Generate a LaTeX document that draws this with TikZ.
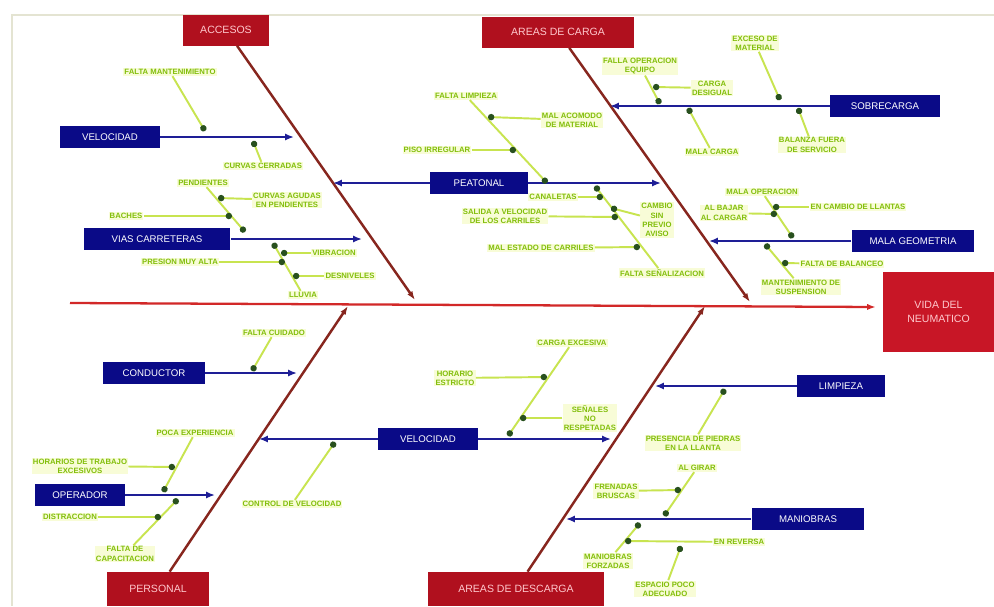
\documentclass[tikz,border=0pt]{standalone}
\usepackage{fontspec}
\setmainfont{Liberation Sans}
\usetikzlibrary{arrows.meta}
\definecolor{catred}{RGB}{176,16,30}
\definecolor{headred}{RGB}{200,22,38}
\definecolor{cattext}{RGB}{255,200,205}
\definecolor{navy}{RGB}{10,10,135}
\definecolor{bluel}{RGB}{30,30,150}
\definecolor{bonec}{RGB}{135,38,30}
\definecolor{spinec}{RGB}{210,40,40}
\definecolor{gline}{RGB}{200,228,80}
\definecolor{gtext}{RGB}{130,190,10}
\definecolor{gfill}{RGB}{248,252,215}
\definecolor{gdot}{RGB}{40,80,30}
\definecolor{framec}{RGB}{228,228,210}

\begin{document}
\begin{tikzpicture}[x=0.02cm,y=-0.02cm,
  cat/.style={fill=catred,text=cattext,font=\fontsize{6}{7}\selectfont,minimum height=0.62cm,inner sep=2pt},
  head/.style={fill=headred,text=cattext,font=\fontsize{6}{7.5}\selectfont,align=center,minimum width=2.22cm,minimum height=1.6cm},
  sub/.style={fill=navy,text=white,font=\fontsize{5.5}{6.5}\selectfont,minimum height=0.45cm,inner sep=2pt},
  cause/.style={text=gtext,fill=gfill,font=\bfseries\fontsize{4.4}{5.3}\selectfont,align=center,inner sep=0.6pt},
  spine/.style={draw=spinec,line width=1.3pt,-{Latex[length=5pt,width=3.5pt]}},
  bone/.style={draw=bonec,line width=1.4pt,-{Latex[length=5pt,width=3.5pt]}},
  branch/.style={draw=bluel,line width=1.6pt,-{Latex[length=5pt,width=4pt]}},
  twig/.style={draw=gline,line width=1.1pt,-{Circle[length=3.6pt,color=gdot]}}]
  \useasboundingbox (0,0) rectangle (994,606);
  \fill[white] (0,0) rectangle (994,606);
  \draw[framec,line width=1.2pt] (994,15) -- (12,15) -- (12,606);

  % head and spine
  \node[head] (vida) at (938.5,312) {VIDA DEL\\NEUMATICO};
  \coordinate (tail) at (70,303);
  \coordinate (tip) at (876,307);
  \draw[spine] (tail) -- (tip);

  % categories
  \node[cat,minimum width=1.74cm] (acc) at (226,30) {ACCESOS};
  \node[cat,minimum width=3.04cm] (carga) at (558,32) {AREAS DE CARGA};
  \node[cat,minimum width=2.06cm,minimum height=0.68cm] (pers) at (158,589) {PERSONAL};
  \node[cat,minimum width=3.54cm,minimum height=0.68cm] (desc) at (516,589) {AREAS DE DESCARGA};
  \coordinate (accEnd) at (415,300);
  \coordinate (cargaEnd) at (750,302);
  \coordinate (persEnd) at (348,306);
  \coordinate (descEnd) at (705,306);
  \draw[bone] (acc) -- (accEnd);
  \draw[bone] (carga) -- (cargaEnd);
  \draw[bone] (pers) -- (persEnd);
  \draw[bone] (desc) -- (descEnd);

  % blue branches
  \node[sub,minimum width=2cm] (vel1) at (110,137) {VELOCIDAD};
  \node[sub,minimum width=2.94cm] (vias) at (157,239) {VIAS CARRETERAS};
  \node[sub,minimum width=1.96cm] (peat) at (479,183) {PEATONAL};
  \node[sub,minimum width=2.2cm] (sobre) at (885,106) {SOBRECARGA};
  \node[sub,minimum width=2.46cm] (geo) at (913,241) {MALA GEOMETRIA};
  \node[sub,minimum width=2.04cm] (cond) at (154,373) {CONDUCTOR};
  \node[sub,minimum width=1.8cm] (oper) at (80,495) {OPERADOR};
  \node[sub,minimum width=2cm] (vel2) at (428,439) {VELOCIDAD};
  \node[sub,minimum width=1.76cm] (limp) at (841,386) {LIMPIEZA};
  \node[sub,minimum width=2.26cm] (mani) at (808,519) {MANIOBRAS};
  \coordinate (vel1E) at (294,137);
  \coordinate (viasE) at (362,239);
  \coordinate (peatW) at (333,183);
  \coordinate (peatE) at (661,183);
  \coordinate (sobreE) at (610,106);
  \coordinate (geoE) at (709,241);
  \coordinate (condE) at (297,373);
  \coordinate (operE) at (215,495);
  \coordinate (vel2W) at (259,439);
  \coordinate (vel2E) at (611,439);
  \coordinate (limpE) at (655,386);
  \coordinate (maniE) at (566,519);
  \draw[branch] (vel1) -- (vel1E);
  \draw[branch] (vias) -- (viasE);
  \draw[branch] (peat) -- (peatW);
  \draw[branch] (peat) -- (peatE);
  \draw[branch] (sobre) -- (sobreE);
  \draw[branch] (geo) -- (geoE);
  \draw[branch] (cond) -- (condE);
  \draw[branch] (oper) -- (operE);
  \draw[branch] (vel2) -- (vel2W);
  \draw[branch] (vel2) -- (vel2E);
  \draw[branch] (limp) -- (limpE);
  \draw[branch] (mani) -- (maniE);

  % accesos
  \node[cause] (c1) at (170,72) {FALTA MANTENIMIENTO};
  \node[cause] (c2) at (263,166) {CURVAS CERRADAS};
  \node[cause] (c3) at (203,183) {PENDIENTES};
  \node[cause] (c4) at (287,200) {CURVAS AGUDAS\\EN PENDIENTES};
  \node[cause] (c5) at (126,216) {BACHES};
  \node[cause] (c6) at (303,295) {LLUVIA};
  \node[cause] (c7) at (334,253) {VIBRACION};
  \node[cause] (c8) at (180,262) {PRESION MUY ALTA};
  \node[cause] (c9) at (350,276) {DESNIVELES};
  \coordinate (d1) at (205,131);
  \coordinate (d2) at (253,141);
  \coordinate (d3) at (245,232);
  \coordinate (d4) at (218,198);
  \coordinate (d5) at (232,216);
  \coordinate (d6) at (273,243);
  \coordinate (d7) at (281,253);
  \coordinate (d8) at (285,262);
  \coordinate (d9) at (293,276);
  \foreach \i in {1,...,9} \draw[twig] (c\i) -- (d\i);

  % areas de carga
  \node[cause] (c10) at (466,96) {FALTA LIMPIEZA};
  \node[cause] (c11) at (572,120) {MAL ACOMODO\\DE MATERIAL};
  \node[cause] (c12) at (437,150) {PISO IRREGULAR};
  \node[cause] (c13) at (662,273) {FALTA SEÑALIZACION};
  \node[cause] (c14) at (505,216) {SALIDA A VELOCIDAD\\DE LOS CARRILES};
  \node[cause] (c15) at (657,220) {CAMBIO\\SIN\\PREVIO\\AVISO};
  \node[cause] (c16) at (541,248) {MAL ESTADO DE CARRILES};
  \node[cause] (c17) at (553,197) {CANALETAS};
  \node[cause] (c18) at (640,66) {FALLA OPERACION\\EQUIPO};
  \node[cause] (c19) at (712,88) {CARGA\\DESIGUAL};
  \node[cause] (c20) at (712,152) {MALA CARGA};
  \node[cause] (c21) at (755,43) {EXCESO DE\\MATERIAL};
  \node[cause] (c22) at (812,145) {BALANZA FUERA\\DE SERVICIO};
  \node[cause] (c23) at (762,192) {MALA OPERACION};
  \node[cause] (c24) at (858,207) {EN CAMBIO DE LLANTAS};
  \node[cause] (c25) at (724,213) {AL BAJAR\\AL CARGAR};
  \node[cause] (c26) at (801,287) {MANTENIMIENTO DE\\SUSPENSION};
  \node[cause] (c27) at (842,264) {FALTA DE BALANCEO};
  \coordinate (d10) at (547,183);
  \coordinate (d11) at (488,117);
  \coordinate (d12) at (516,150);
  \coordinate (d13) at (595,186);
  \coordinate (d14) at (618,217);
  \coordinate (d15) at (611,208);
  \coordinate (d16) at (640,247);
  \coordinate (d17) at (603,197);
  \coordinate (d18) at (660,104);
  \coordinate (d19) at (653,87);
  \coordinate (d20) at (688,108);
  \coordinate (d21) at (780,100);
  \coordinate (d22) at (798,108);
  \coordinate (d23) at (793,238);
  \coordinate (d24) at (773,207);
  \coordinate (d25) at (777,214);
  \coordinate (d26) at (765,244);
  \coordinate (d27) at (782,263);
  \foreach \i in {10,...,27} \draw[twig] (c\i) -- (d\i);

  % personal
  \node[cause] (c28) at (274,333) {FALTA CUIDADO};
  \node[cause] (c29) at (195,433) {POCA EXPERIENCIA};
  \node[cause] (c30) at (80,466) {HORARIOS DE TRABAJO\\EXCESIVOS};
  \node[cause] (c31) at (125,554) {FALTA DE\\CAPACITACION};
  \node[cause] (c32) at (70,517) {DISTRACCION};
  \node[cause] (c33) at (292,504) {CONTROL DE VELOCIDAD};
  \node[cause] (c34) at (572,343) {CARGA EXCESIVA};
  \node[cause] (c35) at (455,378) {HORARIO\\ESTRICTO};
  \node[cause] (c36) at (590,418) {SEÑALES\\NO\\RESPETADAS};
  \coordinate (d28) at (252,371);
  \coordinate (d29) at (163,492);
  \coordinate (d30) at (175,467);
  \coordinate (d31) at (178,499);
  \coordinate (d32) at (161,517);
  \coordinate (d33) at (335,442);
  \coordinate (d34) at (508,436);
  \coordinate (d35) at (547,377);
  \coordinate (d36) at (520,418);
  \foreach \i in {28,...,36} \draw[twig] (c\i) -- (d\i);

  % areas de descarga
  \node[cause] (c37) at (693,443) {PRESENCIA DE PIEDRAS\\EN LA LLANTA};
  \node[cause] (c38) at (697,468) {AL GIRAR};
  \node[cause] (c39) at (616,491) {FRENADAS\\BRUSCAS};
  \node[cause] (c40) at (608,561) {MANIOBRAS\\FORZADAS};
  \node[cause] (c41) at (739,542) {EN REVERSA};
  \node[cause] (c42) at (665,589) {ESPACIO POCO\\ADECUADO};
  \coordinate (d37) at (725,389);
  \coordinate (d38) at (664,516);
  \coordinate (d39) at (681,490);
  \coordinate (d40) at (640,523);
  \coordinate (d41) at (625,541);
  \coordinate (d42) at (681,546);
  \foreach \i in {37,...,42} \draw[twig] (c\i) -- (d\i);
\end{tikzpicture}
\end{document}
